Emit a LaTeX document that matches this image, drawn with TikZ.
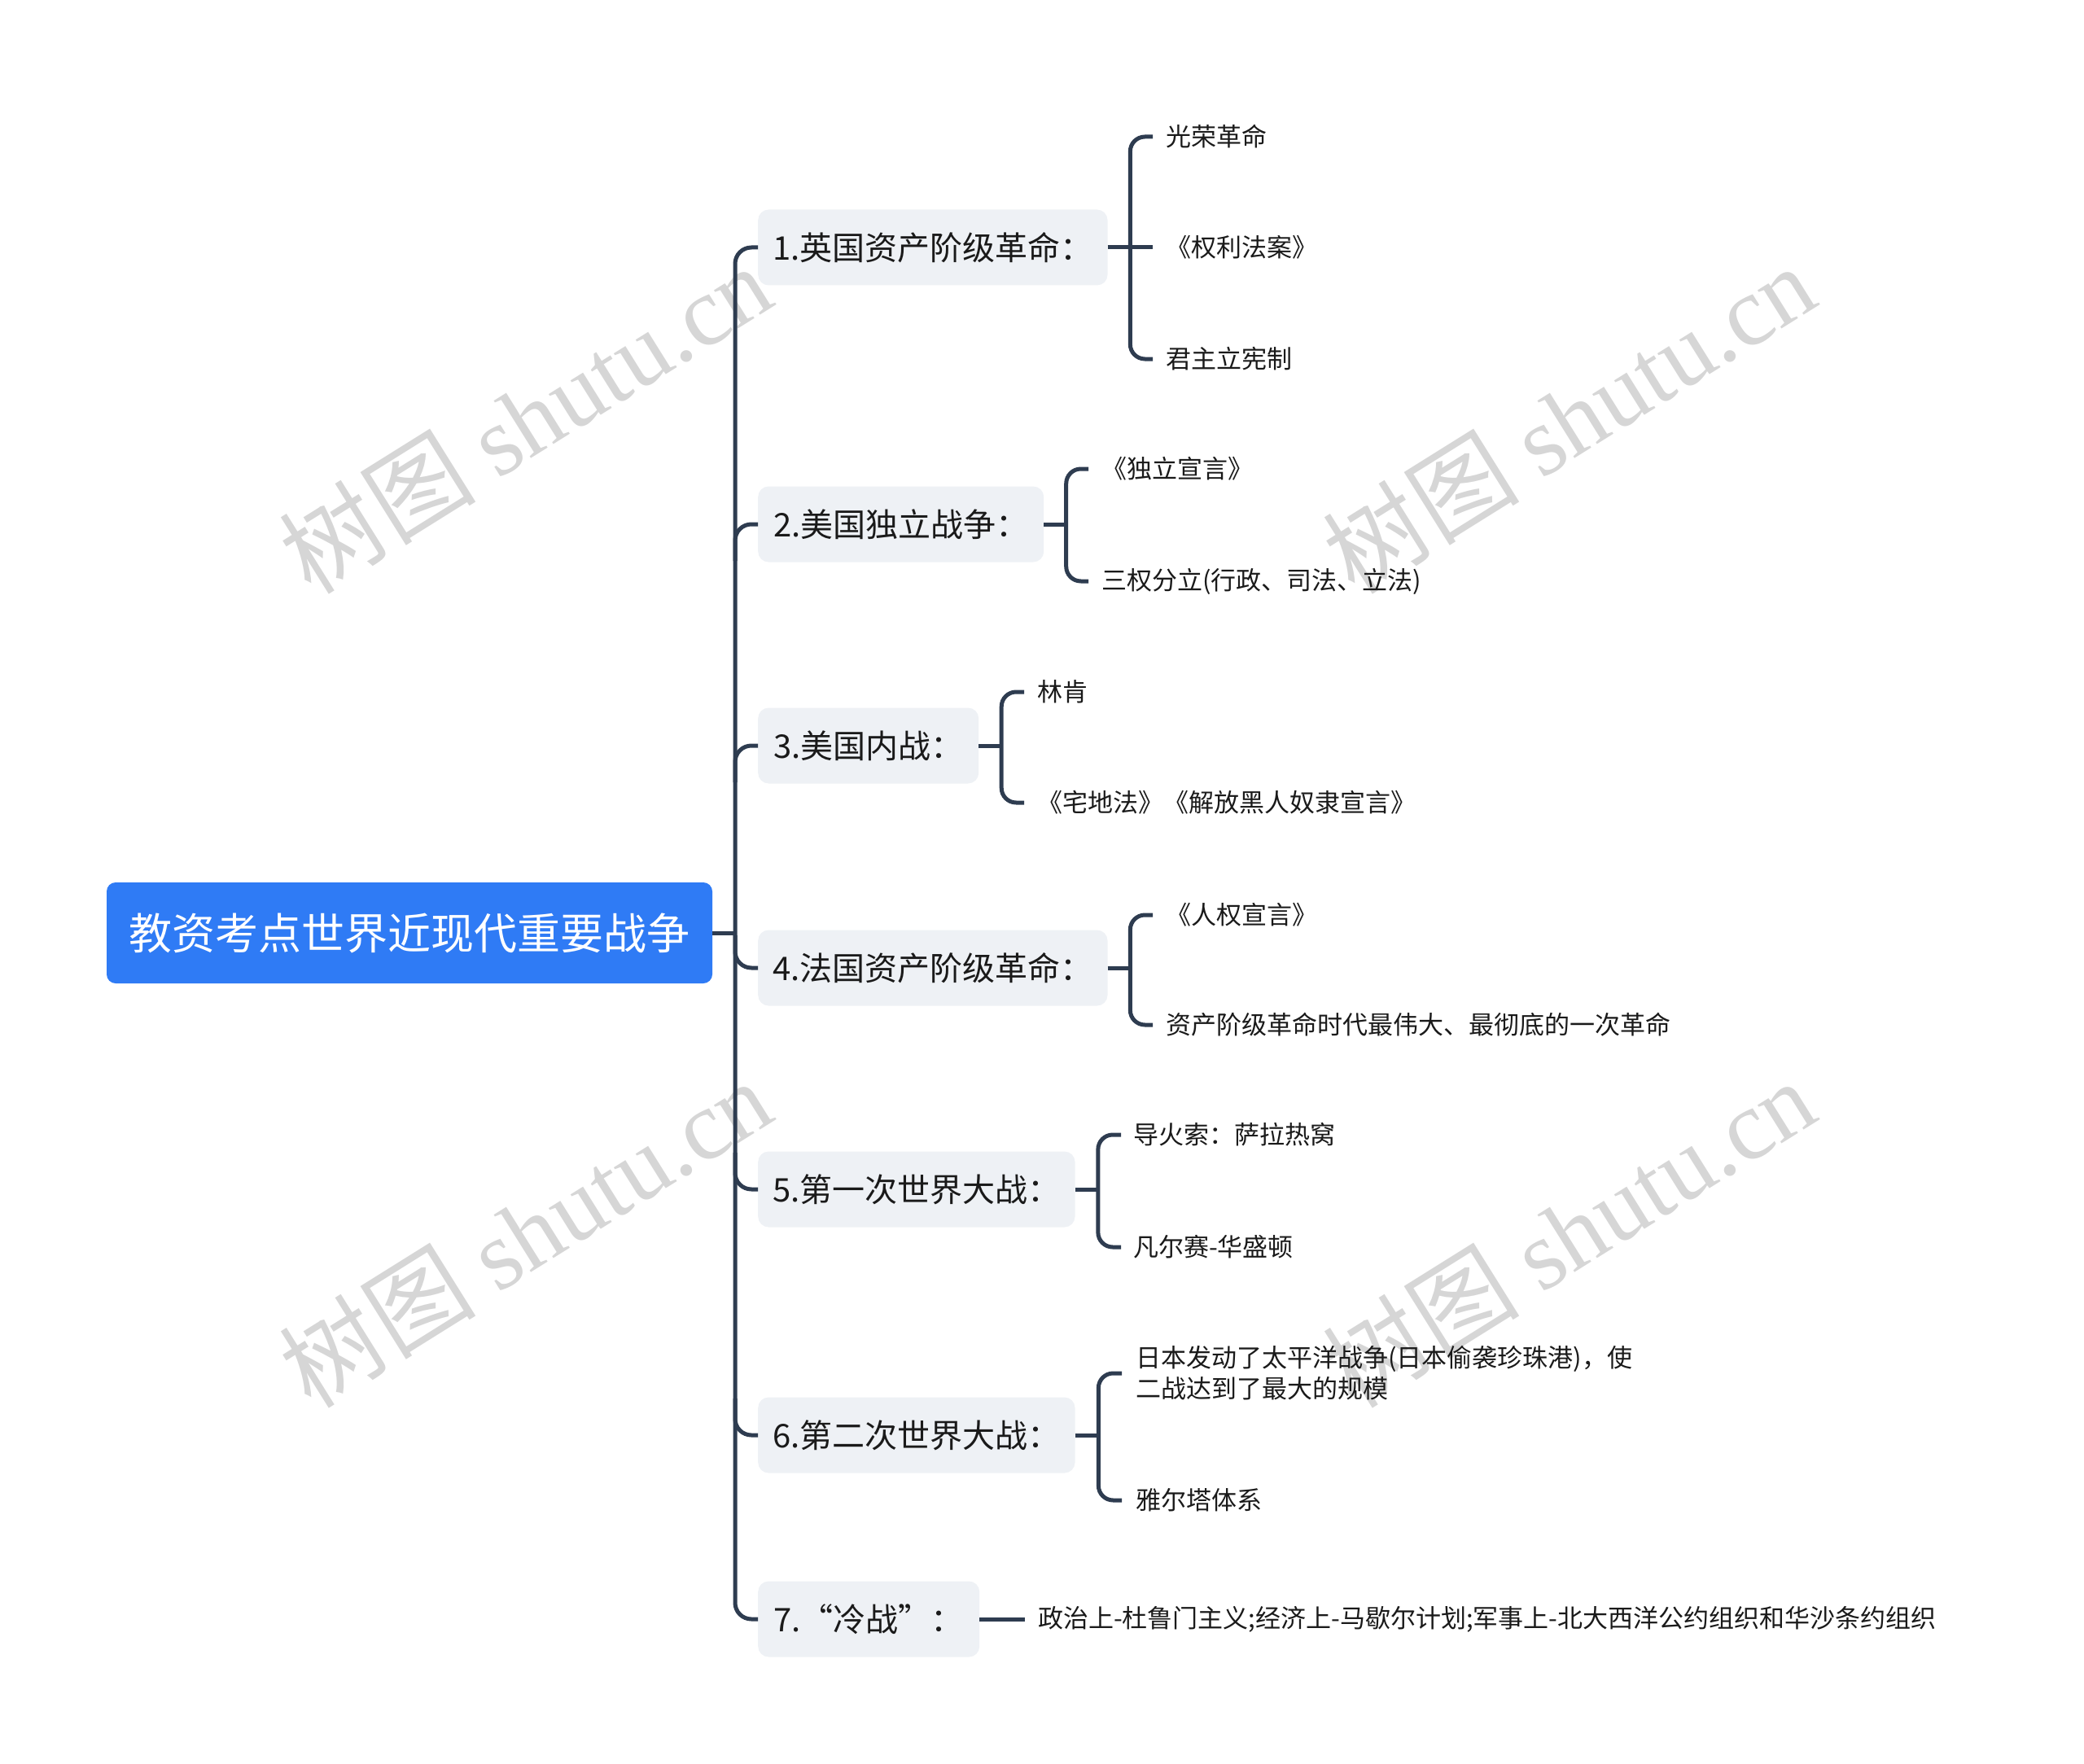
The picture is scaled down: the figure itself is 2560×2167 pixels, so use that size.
\documentclass[tikz,border=0pt]{standalone}
\usepackage{fontspec}
\setmainfont{Noto Sans CJK SC}
\newfontfamily\wmserif{Liberation Serif}
\usetikzlibrary{calc}
\definecolor{rootblue}{HTML}{2F7BF5}
\definecolor{boxgray}{HTML}{EEF1F5}
\definecolor{linec}{HTML}{2E3C50}
\definecolor{txtc}{HTML}{1A1A1A}
\definecolor{wmc}{HTML}{D6D6D6}
\begin{document}
\begin{tikzpicture}[x=1pt,y=-1pt,
  rootnode/.style={fill=rootblue, rounded corners=11pt, text=white, font=\fontsize{53}{64}\selectfont, minimum width=744pt, minimum height=124pt, inner sep=0pt},
  branchnode/.style={fill=boxgray, rounded corners=13pt, text=txtc, font=\fontsize{40}{48}\selectfont, minimum height=93pt, inner xsep=18pt, inner ysep=0pt, anchor=west},
  leafnode/.style={text=txtc, font=\fontsize{31}{38}\selectfont, inner xsep=16pt, inner ysep=0pt, anchor=west, align=left},
  conn/.style={draw=linec, line width=5pt},
  bendline/.style={conn, rounded corners=20pt},
  brk/.style={conn, rounded corners=18pt},
  wm/.style={text=wmc, rotate=32, font=\fontsize{121}{121}\selectfont, inner sep=0pt}
]
\useasboundingbox (0,0) rectangle (2560,2167);
% watermarks
\node[wm] (wm1) at (645,514) {树图 {\wmserif shutu.cn}};
\node[wm] (wm2) at (1927,514) {树图 {\wmserif shutu.cn}};
\node[wm] (wm3) at (645,1514) {树图 {\wmserif shutu.cn}};
\node[wm] (wm4) at (1927,1514) {树图 {\wmserif shutu.cn}};

% root
\node[rootnode] (root) at (503,1146) {教资考点世界近现代重要战争};
\coordinate (tk) at (903,0);

% branches
\node[branchnode, minimum width=429pt] (b1) at (931,304) {1.英国资产阶级革命：};
\node[branchnode, minimum width=351pt] (b2) at (931,644) {2.美国独立战争：};
\node[branchnode, minimum width=271pt] (b3) at (931,916) {3.美国内战：};
\node[branchnode, minimum width=429pt] (b4) at (931,1189) {4.法国资产阶级革命：};
\node[branchnode, minimum width=389pt] (b5) at (931,1461) {5.第一次世界大战：};
\node[branchnode, minimum width=389pt] (b6) at (931,1763) {6.第二次世界大战：};
\node[branchnode, minimum width=272pt] (b7) at (931,1989) {7.“冷战”：};

% leaves
\node[leafnode] (l11) at (1416,168) {光荣革命};
\node[leafnode] (l12) at (1416,304) {《权利法案》};
\node[leafnode] (l13) at (1416,441) {君主立宪制};
\node[leafnode] (l21) at (1337,576) {《独立宣言》};
\node[leafnode] (l22) at (1337,714) {三权分立(行政、司法、立法)};
\node[leafnode] (l31) at (1258,850) {林肯};
\node[leafnode] (l32) at (1258,986) {《宅地法》《解放黑人奴隶宣言》};
\node[leafnode] (l41) at (1416,1124) {《人权宣言》};
\node[leafnode] (l42) at (1416,1259) {资产阶级革命时代最伟大、最彻底的一次革命};
\node[leafnode, inner xsep=15pt] (l51) at (1377,1394) {导火索：萨拉热窝};
\node[leafnode, inner xsep=15pt] (l52) at (1377,1532) {凡尔赛-华盛顿};
\node[leafnode, inner xsep=17pt] (l61) at (1378,1687) {日本发动了太平洋战争(日本偷袭珍珠港)，使\\二战达到了最大的规模};
\node[leafnode, inner xsep=17pt] (l62) at (1378,1843) {雅尔塔体系};
\node[leafnode] (l71) at (1259,1989) {政治上-杜鲁门主义;经济上-马歇尔计划;军事上-北大西洋公约组织和华沙条约组织};

% trunk
\draw[conn] (root.east) -- (root.east -| tk);
\draw[bendline] (b1.west) -| (tk |- b7.west) -- (b7.west);
\draw[bendline] ($(tk |- b2.west)+(0,45)$) |- (b2.west);
\draw[bendline] ($(tk |- b3.west)+(0,45)$) |- (b3.west);
\draw[bendline] ($(tk |- b4.west)+(0,-40)$) |- (b4.west);
\draw[bendline] ($(tk |- b5.west)+(0,-45)$) |- (b5.west);
\draw[bendline] ($(tk |- b6.west)+(0,-45)$) |- (b6.west);

% group 1
\coordinate (j1) at ($(b1.east)!.5!(b1.east -| l12.west)$);
\draw[conn] (b1.east) -- (l12.west);
\draw[brk] (l11.west) -| (j1) |- (l13.west);
% group 2
\coordinate (j2) at ($(b2.east)!.5!(b2.east -| l21.west)$);
\draw[conn] (b2.east) -- (j2);
\draw[brk] (l21.west) -| (j2) |- (l22.west);
% group 3
\coordinate (j3) at ($(b3.east)!.5!(b3.east -| l31.west)$);
\draw[conn] (b3.east) -- (j3);
\draw[brk] (l31.west) -| (j3) |- (l32.west);
% group 4
\coordinate (j4) at ($(b4.east)!.5!(b4.east -| l41.west)$);
\draw[conn] (b4.east) -- (j4);
\draw[brk] (l41.west) -| (j4) |- (l42.west);
% group 5
\coordinate (j5) at ($(b5.east)!.5!(b5.east -| l51.west)$);
\draw[conn] (b5.east) -- (j5);
\draw[brk] (l51.west) -| (j5) |- (l52.west);
% group 6
\coordinate (j6) at ($(b6.east)!.5!(b6.east -| l61.west)$);
\draw[conn] (b6.east) -- (j6);
\draw[brk] (l61.west) -| (j6) |- (l62.west);
% group 7
\draw[conn] (b7.east) -- (l71.west);
\end{tikzpicture}
\end{document}
